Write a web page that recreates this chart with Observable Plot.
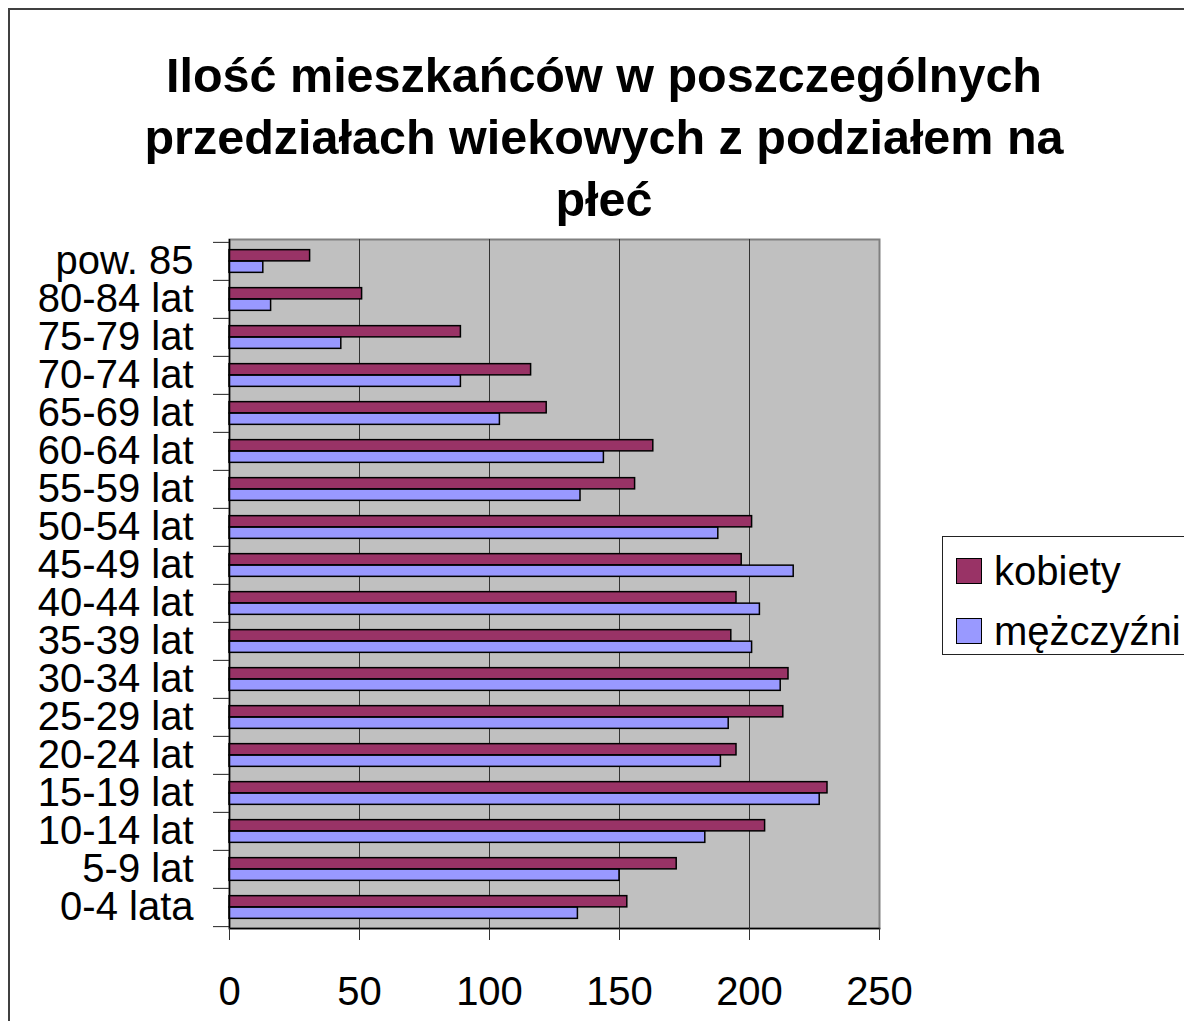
<!DOCTYPE html>
<html>
<head>
<meta charset="utf-8">
<script src="https://cdn.jsdelivr.net/npm/d3@7"></script>
<script src="https://cdn.jsdelivr.net/npm/@observablehq/plot@0.6"></script>
<style>
  html, body { margin: 0; padding: 0; background: #fff; }
  body { width: 1184px; height: 1021px; overflow: hidden; position: relative; font-family: "Liberation Sans", Arial, sans-serif; }
  #frame { position: absolute; left: 8px; top: 8px; width: 1400px; height: 1200px; border: 2px solid #404040; box-sizing: border-box; }
  #title { position: absolute; left: 604px; top: 44px; transform: translateX(-50%); text-align: center; white-space: nowrap;
           font-size: 48.5px; font-weight: bold; line-height: 62px; color: #000; }
  #chart { position: absolute; left: 0; top: 230px; }
  #legend { position: absolute; left: 942px; top: 536px; width: 270px; height: 119px; border: 1px solid #222; box-sizing: border-box; background: #fff; }
  .item { position: absolute; left: 13px; display: flex; align-items: center; font-size: 40px; color: #000; }
  .sw { width: 24px; height: 24px; border: 1.5px solid #000; margin-right: 12px; flex: none; }
</style>
</head>
<body>
<div id="frame"></div>
<div id="title">Ilość mieszkańców w poszczególnych<br>przedziałach wiekowych z podziałem na<br>płeć</div>
<div id="chart"></div>
<div id="legend"></div>
<script>
// ---- data ----
const categories = ["pow. 85","80-84 lat","75-79 lat","70-74 lat","65-69 lat","60-64 lat","55-59 lat","50-54 lat","45-49 lat","40-44 lat","35-39 lat","30-34 lat","25-29 lat","20-24 lat","15-19 lat","10-14 lat","5-9 lat","0-4 lata"];
const kobiety   = [31, 51, 89, 116, 122, 163, 156, 201, 197, 195, 193, 215, 213, 195, 230, 206, 172, 153];
const mezczyzni = [13, 16, 43,  89, 104, 144, 135, 188, 217, 204, 201, 212, 192, 189, 227, 183, 150, 134];
const seriesNames = ["kobiety", "mężczyźni"];
const seriesColors = ["#993366", "#9999FF"];
const xTicks = [0, 50, 100, 150, 200, 250];

const rows = categories.flatMap((c, i) => [
  {wiek: c, plec: seriesNames[0], n: kobiety[i]},
  {wiek: c, plec: seriesNames[1], n: mezczyzni[i]}
]);

const height = 791, marginTop = 9, marginBottom = 93;
const band = (height - marginTop - marginBottom) / categories.length;
const half = band / 2;
const outer = band * 0.2;

const chart = Plot.plot({
  width: 1184,
  height,
  marginTop,
  marginBottom,
  marginLeft: 229,
  marginRight: 305,
  style: {fontFamily: "'Liberation Sans', Arial, sans-serif", color: "#000", background: "transparent", overflow: "visible"},
  x: {domain: [0, 250], ticks: xTicks, label: null},
  y: {domain: categories, padding: 0, label: null},
  color: {domain: seriesNames, range: seriesColors},
  marks: [
    Plot.frame({fill: "#C0C0C0", stroke: "#808080", strokeWidth: 2}),
    Plot.ruleX(xTicks.filter(t => t > 0 && t < 250), {stroke: "#333", strokeWidth: 1}),
    Plot.barX(rows.filter(d => d.plec === seriesNames[0]), {
      x: "n", y: "wiek", fill: "plec", stroke: "#000", strokeWidth: 1.5,
      insetTop: outer, insetBottom: half
    }),
    Plot.barX(rows.filter(d => d.plec === seriesNames[1]), {
      x: "n", y: "wiek", fill: "plec", stroke: "#000", strokeWidth: 1.5,
      insetTop: half, insetBottom: outer
    }),
    Plot.ruleX([0], {stroke: "#000", strokeWidth: 1.5}),
    Plot.frame({anchor: "bottom", stroke: "#000", strokeWidth: 1.5}),
    Plot.axisX({ticks: xTicks, tickSize: 12, tickPadding: 36, fontSize: 40, stroke: "#333", label: null, tickFormat: d => String(d)}),
    Plot.axisY({tickSize: 0, tickPadding: 36, fontSize: 40, label: null}),
    Plot.axisY({tickSize: 16, text: null, label: null, dy: -half, stroke: "#222"}),
    Plot.axisY({ticks: [categories[categories.length - 1]], tickSize: 16, text: null, label: null, dy: half, stroke: "#222"})
  ]
});
document.getElementById("chart").appendChild(chart);

const legend = document.getElementById("legend");
seriesNames.forEach((name, i) => {
  const item = document.createElement("div");
  item.className = "item";
  item.style.top = (21 + i * 60 - 9) + "px";
  item.style.height = "44px";
  const sw = document.createElement("div");
  sw.className = "sw";
  sw.style.background = seriesColors[i];
  const label = document.createElement("span");
  label.textContent = name;
  item.appendChild(sw);
  item.appendChild(label);
  legend.appendChild(item);
});
</script>
</body>
</html>
